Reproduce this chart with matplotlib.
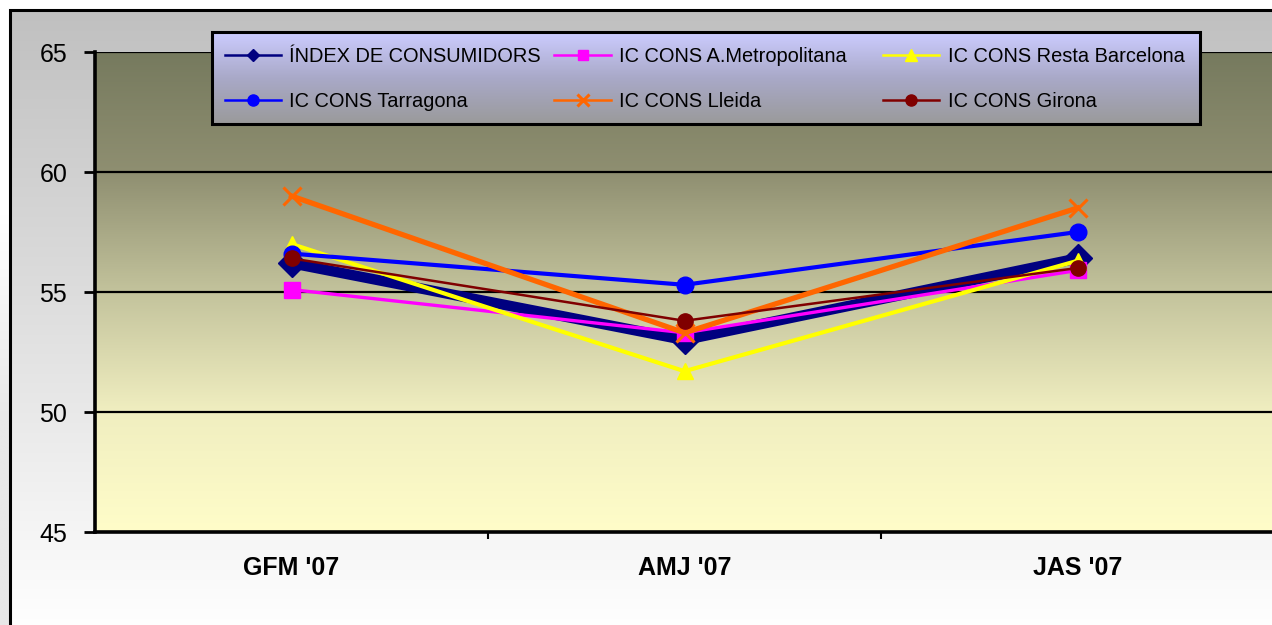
import numpy as np
import matplotlib
matplotlib.use("Agg")
import matplotlib.pyplot as plt
from matplotlib.colors import LinearSegmentedColormap
from matplotlib.patches import Rectangle

plt.rcParams['font.family'] = ['Liberation Sans', 'DejaVu Sans']

categories = ["GFM '07", "AMJ '07", "JAS '07"]
index_cons = [56.2, 53.0, 56.4]
ametro = [55.1, 53.3, 55.9]
resta_bcn = [57.0, 51.7, 56.3]
tarragona = [56.6, 55.3, 57.5]
lleida = [59.0, 53.3, 58.5]
girona = [56.4, 53.8, 56.0]
labels = ["ÍNDEX DE CONSUMIDORS", "IC CONS A.Metropolitana", "IC CONS Resta Barcelona",
          "IC CONS Tarragona", "IC CONS Lleida", "IC CONS Girona"]
yticks = [45, 50, 55, 60, 65]

W, H = 1272, 625
fig = plt.figure(figsize=(W / 100, H / 100), dpi=100)
fig.patch.set_facecolor('white')

# figure background gradient with frame
bg = fig.add_axes([0, 0, 1, 1], zorder=-10)
bg.set_axis_off()
bg.set_xlim(0, W); bg.set_ylim(H, 0)
gcmap = LinearSegmentedColormap.from_list('g', ['#c0c0c0', '#ffffff'])
grad = np.linspace(0, 1, 256).reshape(-1, 1)
bg.imshow(grad, cmap=gcmap, extent=[10, W + 5, H + 5, 10], aspect='auto', zorder=0)
lcmap = LinearSegmentedColormap.from_list('l', ['#ffffff', '#ffffff', '#e8e8e8', '#e8e8e8'])
bg.imshow(grad, cmap=lcmap, extent=[0, 10, H, 10], aspect='auto', zorder=0)
bg.plot([10, 10, W + 5], [H + 5, 10, 10], color='black', lw=2.2, zorder=2, solid_joinstyle='miter')

ax = fig.add_axes([95 / W, 1 - 532 / H, (1274 - 95) / W, (532 - 52) / H], zorder=1)
x = np.arange(len(categories))
ax.set_xlim(-0.5, 2.5)
ax.set_ylim(45, 65)

acmap = LinearSegmentedColormap.from_list(
    'a', [(0.0, '#767a5e'), (0.25, '#8f8f71'), (0.5, '#c3c39c'),
          (0.75, '#f0eec0'), (1.0, '#fffdc9')])
ax.imshow(grad, cmap=acmap, extent=[-0.5, 2.5, 45, 65], aspect='auto', zorder=0,
          origin='upper')

for v in [50, 55, 60, 65]:
    ax.axhline(v, color='black', lw=1.6, zorder=1)

styles = [
    dict(color='#000080', lw=7.5, marker='D', ms=14),
    dict(color='#ff00ff', lw=2.4, marker='s', ms=11),
    dict(color='#ffff00', lw=3, marker='^', ms=12),
    dict(color='#0000ff', lw=3, marker='o', ms=12),
    dict(color='#ff6600', lw=3.8, marker='x', ms=13, mew=2.2),
    dict(color='#800000', lw=1.8, marker='o', ms=11),
]
series = [index_cons, ametro, resta_bcn, tarragona, lleida, girona]
for i, (vals, st) in enumerate(zip(series, styles)):
    ax.plot(x, vals, zorder=3 + i, **st)

ax.set_xticks(x)
ax.set_xticklabels(categories, fontsize=18, fontweight='bold')
ax.tick_params(axis='x', length=0, pad=17)
ax.set_xticks([0.5, 1.5], minor=True)
ax.tick_params(axis='x', which='minor', length=5, width=1.5, direction='out')
ax.set_yticks(yticks)
ax.set_yticklabels([str(t) for t in yticks], fontsize=18)
ax.tick_params(axis='y', length=8, width=2, pad=12, direction='out')
for s in ['left', 'bottom']:
    ax.spines[s].set_linewidth(2.6)
ax.spines['top'].set_visible(False)
ax.spines['right'].set_visible(False)

# legend box (drawn manually, pixel coordinates)
lx0, ly0, lx1, ly1 = 212, 32, 1200, 124
lgax = fig.add_axes([lx0 / W, 1 - ly1 / H, (lx1 - lx0) / W, (ly1 - ly0) / H], zorder=2)
lgax.set_axis_off()
lgax.set_xlim(lx0, lx1); lgax.set_ylim(ly1, ly0)
lcm = LinearSegmentedColormap.from_list('lg', ['#ccccff', '#a9a9c8', '#9a9a9a'])
lgax.imshow(grad, cmap=lcm, extent=[lx0, lx1, ly1, ly0], aspect='auto')
lgax.add_patch(Rectangle((0, 0), 1, 1, transform=lgax.transAxes, fill=False,
                         ec='black', lw=2.2, clip_on=False))
col_x = [(225, 281, 289), (554, 611, 619), (883, 939, 948)]
row_y = [55, 100]
leg_ms = {'D': 6.5, 's': 7.5, '^': 8, 'o': 8, 'x': 8}
for i, (lab, st) in enumerate(zip(labels, styles)):
    r, c = divmod(i, 3)
    a, b, t = col_x[c]
    yy = row_y[r]
    lgax.plot([a, b], [yy, yy], color=st['color'], lw=1.8, clip_on=False)
    lgax.plot([(a + b) / 2], [yy], color=st['color'], marker=st['marker'],
              ms=leg_ms[st['marker']], mew=st.get('mew', 1), clip_on=False)
    lgax.text(t, yy + 1.5, lab, fontsize=14.4, va='center', ha='left')

fig.savefig('out.png', dpi=100)
